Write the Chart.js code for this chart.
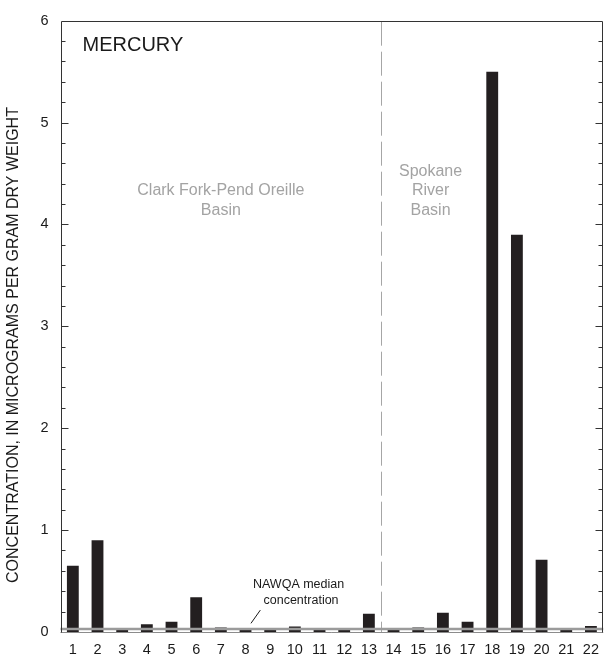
<!DOCTYPE html>
<html>
<head>
<meta charset="utf-8">
<script src="https://cdn.jsdelivr.net/npm/chart.js@4/dist/chart.umd.min.js"></script>
<style>
  html, body { margin: 0; padding: 0; background: #fff; }
  #wrap { width: 608px; height: 659px; position: relative; }
</style>
</head>
<body>
<div id="wrap"><canvas id="c" width="608" height="659"></canvas></div>
<script>
// Sampling sites, numbered along the x axis
const sites = ['1','2','3','4','5','6','7','8','9','10','11','12','13','14','15','16','17','18','19','20','21','22'];
// Mercury in streambed sediment, micrograms per gram dry weight
const mercury = [0.65, 0.90, 0.025, 0.075, 0.10, 0.34, 0.045, 0.025, 0.025, 0.055, 0.02,
                 0.02, 0.18, 0.02, 0.045, 0.19, 0.10, 5.50, 3.90, 0.71, 0.02, 0.06];
// Labelled y-axis values and minor tick step
const yMajorTicks = [0, 1, 2, 3, 4, 5, 6];
const yMinorStep = 0.2;
// National median used for reference
const nawqaMedian = 0.03;
// Last site of the Clark Fork-Pend Oreille group
const lastClarkForkSite = 13;

const FONT = '"Liberation Sans", Arial, Helvetica, sans-serif';

const decorations = {
  id: 'decorations',
  beforeDatasetsDraw(chart) {
    const { ctx, chartArea: a, scales: { x, y } } = chart;
    ctx.save();
    // dashed divider between the two basins
    const xd = Math.round((x.getPixelForValue(lastClarkForkSite - 1) + x.getPixelForValue(lastClarkForkSite)) / 2) + 0.5;
    ctx.strokeStyle = '#a6a6a6';
    ctx.lineWidth = 1;
    ctx.setLineDash([24, 6]);
    ctx.beginPath();
    ctx.moveTo(xd, a.top + 1);
    ctx.lineTo(xd, a.bottom);
    ctx.stroke();
    ctx.setLineDash([]);

    // basin names
    ctx.fillStyle = '#a3a3a3';
    ctx.font = '16px ' + FONT;
    ctx.textAlign = 'center';
    ctx.textBaseline = 'middle';
    const cx = x.getPixelForValue(6);
    ctx.fillText('Clark Fork-Pend Oreille', cx, y.getPixelForValue(4.33));
    ctx.fillText('Basin', cx, y.getPixelForValue(4.14));
    const sx = x.getPixelForValue(14.5);
    ctx.fillText('Spokane', sx, y.getPixelForValue(4.52));
    ctx.fillText('River', sx, y.getPixelForValue(4.33));
    ctx.fillText('Basin', sx, y.getPixelForValue(4.14));
    ctx.restore();
  },
  afterDatasetsDraw(chart) {
    const { ctx, chartArea: a, scales: { x, y } } = chart;
    ctx.save();
    // bottom axis line
    const yb = Math.round(y.getPixelForValue(0)) + 0.5;
    ctx.strokeStyle = '#8c8c8c';
    ctx.lineWidth = 1;
    ctx.beginPath();
    ctx.moveTo(a.left, yb);
    ctx.lineTo(a.right, yb);
    ctx.stroke();

    // NAWQA median line
    const ym = y.getPixelForValue(nawqaMedian);
    ctx.strokeStyle = '#9b9b9b';
    ctx.lineWidth = 2.5;
    ctx.beginPath();
    ctx.moveTo(a.left, ym);
    ctx.lineTo(a.right, ym);
    ctx.stroke();

    // frame: left, top, right
    ctx.strokeStyle = '#333';
    ctx.lineWidth = 1;
    const xl = Math.round(a.left) + 0.5, xr = Math.round(a.right) - 0.5, yt = Math.round(a.top) + 0.5;
    ctx.beginPath();
    ctx.moveTo(xl, yb);
    ctx.lineTo(xl, yt);
    ctx.lineTo(xr, yt);
    ctx.lineTo(xr, yb);
    ctx.stroke();

    // inward ticks on both sides
    const steps = Math.round(6 / yMinorStep);
    for (let i = 1; i < steps; i++) {
      const v = i * yMinorStep;
      const py = Math.round(y.getPixelForValue(v)) + 0.5;
      const major = yMajorTicks.some(t => Math.abs(t - v) < 1e-6);
      const len = major ? 7 : 4;
      ctx.beginPath();
      ctx.moveTo(xl, py); ctx.lineTo(xl + len, py);
      ctx.moveTo(xr, py); ctx.lineTo(xr - len, py);
      ctx.stroke();
    }

    // chart label
    ctx.fillStyle = '#1a1a1a';
    ctx.font = '20px ' + FONT;
    ctx.textAlign = 'left';
    ctx.textBaseline = 'middle';
    ctx.fillText('MERCURY', a.left + 22, y.getPixelForValue(5.76));

    // median note and leader
    ctx.font = '12.5px ' + FONT;
    ctx.textAlign = 'center';
    ctx.fillStyle = '#1a1a1a';
    ctx.fillText('NAWQA median', x.getPixelForValue(9.15), y.getPixelForValue(0.465));
    ctx.fillText('concentration', x.getPixelForValue(9.25), y.getPixelForValue(0.31));
    ctx.strokeStyle = '#1a1a1a';
    ctx.beginPath();
    ctx.moveTo(x.getPixelForValue(7.6), y.getPixelForValue(0.215));
    ctx.lineTo(x.getPixelForValue(7.22), y.getPixelForValue(0.085));
    ctx.stroke();

    // y-axis title
    ctx.font = '16px ' + FONT;
    ctx.fillStyle = '#1a1a1a';
    ctx.translate(14, 345);
    ctx.rotate(-Math.PI / 2);
    ctx.textAlign = 'center';
    ctx.textBaseline = 'middle';
    ctx.fillText('CONCENTRATION, IN MICROGRAMS PER GRAM DRY WEIGHT', 0, 0);
    ctx.restore();
  }
};

new Chart(document.getElementById('c'), {
  type: 'bar',
  data: {
    labels: sites,
    datasets: [{
      data: mercury,
      backgroundColor: '#231f20',
      borderWidth: 0,
      categoryPercentage: 1,
      barPercentage: 0.48
    }]
  },
  options: {
    responsive: false,
    animation: false,
    devicePixelRatio: 1,
    layout: { padding: { top: 14, right: 1, left: 0, bottom: 0 } },
    plugins: { legend: { display: false }, tooltip: { enabled: false } },
    scales: {
      x: {
        grid: { display: false, drawTicks: false },
        border: { display: false },
        ticks: { color: '#1a1a1a', font: { family: FONT, size: 14.5 }, padding: 9, maxRotation: 0, autoSkip: false },
        afterFit(s) { s.height = 27; }
      },
      y: {
        min: 0, max: 6,
        grid: { display: false, drawTicks: false },
        border: { display: false },
        afterBuildTicks(s) { s.ticks = yMajorTicks.map(v => ({ value: v })); },
        ticks: { color: '#1a1a1a', font: { family: FONT, size: 14.5 }, padding: 12 },
        afterFit(s) { s.width = 60.5; }
      }
    }
  },
  plugins: [decorations]
});
</script>
</body>
</html>
